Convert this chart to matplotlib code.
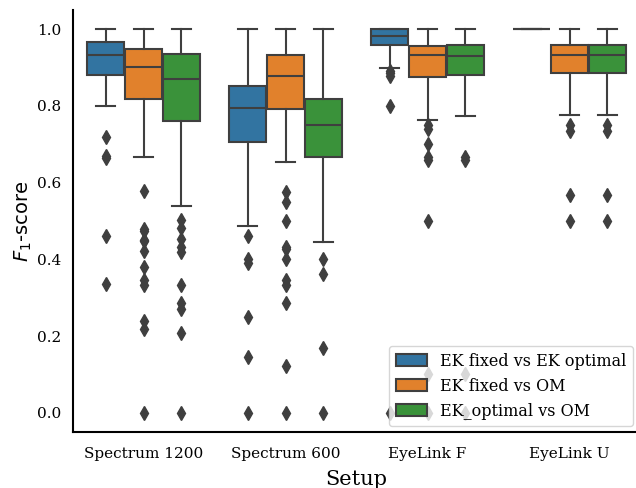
import matplotlib.pyplot as plt

# data (box statistics per comparison, one per setup)
setups = ['Spectrum 1200', 'Spectrum 600', 'EyeLink F', 'EyeLink U']
comparisons = ['EK fixed vs EK optimal', 'EK fixed vs OM', 'EK_optimal vs OM']
colors = ['#3274a1', '#e1812c', '#3a923a']

q1 = [[0.880, 0.705, 0.959, 1.0],
      [0.818, 0.793, 0.876, 0.887],
      [0.760, 0.667, 0.880, 0.887]]
med = [[0.933, 0.795, 0.983, 1.0],
       [0.902, 0.878, 0.932, 0.932],
       [0.869, 0.750, 0.929, 0.932]]
q3 = [[0.967, 0.851, 1.0, 1.0],
      [0.948, 0.932, 0.955, 0.958],
      [0.935, 0.818, 0.958, 0.958]]
whis_lo = [[0.800, 0.487, 0.900, 1.0],
           [0.667, 0.655, 0.764, 0.776],
           [0.540, 0.444, 0.774, 0.776]]
whis_hi = [[1.0, 1.0, 1.0, 1.0],
           [1.0, 1.0, 1.0, 1.0],
           [1.0, 1.0, 1.0, 1.0]]
fliers = [
    [[0.72, 0.67, 0.665, 0.46, 0.335],
     [0.462, 0.40, 0.39, 0.25, 0.145, 0.0],
     [0.89, 0.885, 0.878, 0.80, 0.0],
     []],
    [[0.577, 0.479, 0.475, 0.451, 0.449, 0.423, 0.379, 0.347, 0.333, 0.239, 0.219, 0.0],
     [0.575, 0.55, 0.50, 0.432, 0.427, 0.40, 0.347, 0.332, 0.286, 0.121, 0.0],
     [0.75, 0.74, 0.70, 0.667, 0.66, 0.50, 0.10, 0.0],
     [0.75, 0.735, 0.568, 0.50]],
    [[0.503, 0.481, 0.453, 0.431, 0.42, 0.332, 0.286, 0.271, 0.207, 0.0],
     [0.40, 0.362, 0.169, 0.0],
     [0.667, 0.66, 0.10, 0.0],
     [0.75, 0.735, 0.568, 0.50]],
]

line_c = '#3f3f3f'
fig = plt.figure(figsize=(6.36, 4.88), dpi=100)
ax = fig.add_axes([72.5 / 636, 56 / 488, 568 / 636, 422 / 488])

width = 0.8 / 3
handles = []
for h in range(3):
    stats = []
    for i in range(len(setups)):
        stats.append(dict(med=med[h][i], q1=q1[h][i], q3=q3[h][i],
                          whislo=whis_lo[h][i], whishi=whis_hi[h][i],
                          fliers=fliers[h][i]))
    pos = [i + (h - 1) * width for i in range(len(setups))]
    bp = ax.bxp(stats, positions=pos, widths=width * 0.98, patch_artist=True,
                manage_ticks=False,
                boxprops=dict(facecolor=colors[h], edgecolor=line_c, linewidth=1.5),
                medianprops=dict(color=line_c, linewidth=1.5),
                whiskerprops=dict(color=line_c, linewidth=1.5),
                capprops=dict(color=line_c, linewidth=1.5),
                flierprops=dict(marker='d', markersize=7, markerfacecolor=line_c,
                                markeredgecolor=line_c, linestyle='none'))
    for c in bp['caps']:
        x = c.get_xdata()
        m = (x[0] + x[1]) / 2
        c.set_xdata([m - width / 4, m + width / 4])
    handles.append(plt.Rectangle((0, 0), 1, 1, facecolor=colors[h],
                                 edgecolor=line_c, linewidth=1.5))

ax.set_xlim(-0.5, len(setups) - 0.5)
ax.set_ylim(-0.05, 1.05)
ax.set_xticks(range(len(setups)))
ax.set_xticklabels(setups, family='DejaVu Serif', fontsize=11)
ax.set_yticks([0.0, 0.2, 0.4, 0.6, 0.8, 1.0])
ax.set_yticklabels(['0.0', '0.2', '0.4', '0.6', '0.8', '1.0'], family='DejaVu Serif', fontsize=11)
ax.tick_params(axis='x', length=0, pad=11)
ax.tick_params(axis='y', length=0, pad=8)
ax.spines['top'].set_visible(False)
ax.spines['right'].set_visible(False)
ax.spines['left'].set_linewidth(1.5)
ax.spines['bottom'].set_linewidth(1.5)
ax.set_xlabel('Setup', family='DejaVu Serif', fontsize=15, labelpad=6)
ax.set_ylabel('$F_1$-score', family='DejaVu Sans', fontsize=14, labelpad=2)

ax.legend(handles, comparisons, loc='lower right', bbox_to_anchor=(633 / 636, 62 / 488),
          bbox_transform=fig.transFigure, borderaxespad=0,
          prop=dict(family='DejaVu Serif', size=11.5), framealpha=0.8)

fig.savefig('out.png', dpi=100)
